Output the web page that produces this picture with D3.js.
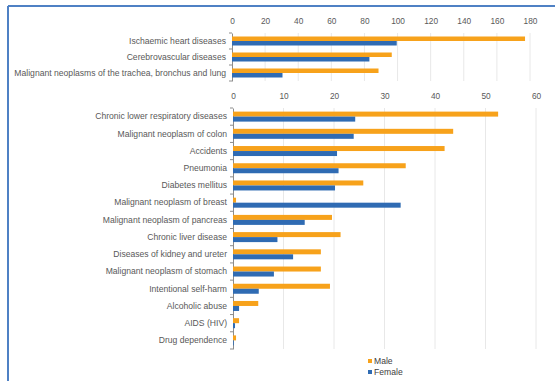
<!DOCTYPE html>
<head>
  <meta charset="utf-8">
  <script src="https://d3js.org/d3.v7.min.js"></script>
  <style>
    body { margin: 0; background: #fff; }
    text { font-family: "Liberation Sans", Arial, sans-serif; }
    .tick text { fill: #595959; font-size: 8.3px; }
  </style>
</head>
<body>
  <div id="graph"></div>
  <script>
    var width = 555, height = 381;

    // top panel
    var topCauses = ["Ischaemic heart diseases", "Cerebrovascular diseases",
      "Malignant neoplasms of the trachea, bronchus and lung"];
    var topMale = [177, 96.5, 88.5];
    var topFemale = [99.5, 83, 30.5];
    var topTicks = [0, 20, 40, 60, 80, 100, 120, 140, 160, 180];

    // bottom panel
    var causes = ["Chronic lower respiratory diseases", "Malignant neoplasm of colon",
      "Accidents", "Pneumonia", "Diabetes mellitus", "Malignant neoplasm of breast",
      "Malignant neoplasm of pancreas", "Chronic liver disease",
      "Diseases of kidney and ureter", "Malignant neoplasm of stomach",
      "Intentional self-harm", "Alcoholic abuse", "AIDS (HIV)", "Drug dependence"];
    var male = [52.5, 43.6, 41.9, 34.2, 25.8, 0.6, 19.6, 21.3, 17.4, 17.4, 19.2, 5.0, 1.2, 0.6];
    var female = [24.2, 23.9, 20.6, 20.9, 20.2, 33.2, 14.2, 8.8, 11.9, 8.1, 5.1, 1.2, 0.4, 0.15];
    var bottomTicks = [0, 10, 20, 30, 40, 50, 60];

    var series = ["Male", "Female"];
    var colors = ["#f7a21b", "#2f6bb3"];

    var svg = d3.select("#graph").append("svg")
      .attr("width", width)
      .attr("height", height);

    // frame
    svg.append("line").attr("x1", 8).attr("x2", width).attr("y1", 6).attr("y2", 6)
      .attr("stroke", "#4f81c4").attr("stroke-width", 2);
    svg.append("line").attr("x1", 8).attr("x2", 8).attr("y1", 6).attr("y2", height)
      .attr("stroke", "#4f81c4").attr("stroke-width", 2);

    function panel(cats, m, f, ticks, xRange, yRange, barH) {
      var x = d3.scaleLinear().domain([0, ticks[ticks.length - 1]]).range(xRange);
      var y = d3.scaleBand().domain(cats).range(yRange);
      var g = svg.append("g");

      // gridlines
      g.selectAll(".grid").data(ticks.slice(1)).enter().append("line")
        .attr("x1", d => x(d)).attr("x2", d => x(d))
        .attr("y1", yRange[0]).attr("y2", yRange[1])
        .attr("stroke", "#e8e8e8").attr("stroke-width", 1);

      var xAxis = d3.axisTop(x).tickValues(ticks).tickSize(0).tickPadding(0);
      g.append("g")
        .attr("transform", "translate(0," + (yRange[0] - 9) + ")")
        .call(xAxis)
        .call(s => s.select(".domain").remove());

      var yAxis = d3.axisLeft(y).tickSize(0).tickPadding(6);
      var ya = g.append("g")
        .attr("transform", "translate(" + xRange[0] + ",0)")
        .call(yAxis);
      ya.select(".domain").attr("stroke", "#8c8c8c");
      ya.selectAll(".tick text").attr("fill", "#404040").style("font-size", "8.6px");

      // tick marks between categories
      g.selectAll(".cat-tick").data(d3.range(cats.length + 1)).enter().append("line")
        .attr("x1", xRange[0] - 3).attr("x2", xRange[0])
        .attr("y1", i => yRange[0] + i * y.step()).attr("y2", i => yRange[0] + i * y.step())
        .attr("stroke", "#8c8c8c");

      var c = y.bandwidth() / 2;
      g.selectAll(".male").data(m).enter().append("rect")
        .attr("x", x(0)).attr("y", (d, i) => y(cats[i]) + c - barH)
        .attr("width", d => x(d) - x(0)).attr("height", barH)
        .attr("fill", colors[0]);
      g.selectAll(".female").data(f).enter().append("rect")
        .attr("x", x(0)).attr("y", (d, i) => y(cats[i]) + c)
        .attr("width", d => x(d) - x(0)).attr("height", barH)
        .attr("fill", colors[1]);
    }

    panel(topCauses, topMale, topFemale, topTicks, [232, 530], [33, 81], 4.5);
    panel(causes, male, female, bottomTicks, [233, 536], [108, 349], 5);

    // legend
    var legend = svg.append("g").attr("transform", "translate(368,358)");
    series.forEach(function(s, i) {
      legend.append("rect").attr("x", 0).attr("y", i * 11 + 1).attr("width", 4).attr("height", 4)
        .attr("fill", colors[i]);
      legend.append("text").attr("x", 6).attr("y", i * 11 + 6)
        .attr("fill", "#404040").style("font-size", "8.6px").text(s);
    });
  </script>
</body>
